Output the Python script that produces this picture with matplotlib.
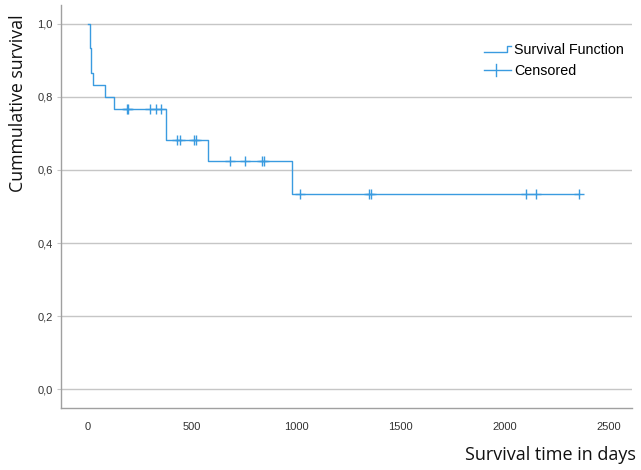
import numpy as np
import matplotlib
matplotlib.use("Agg")
import matplotlib.pyplot as plt
from matplotlib.lines import Line2D
from matplotlib.legend_handler import HandlerBase

# ---- data ----
death_times = [8, 8, 15, 15, 25, 82, 125, 375, 375, 577, 978]
censor_times = [185, 190, 298, 327, 351, 425, 442, 510, 518,
                683, 755, 835, 846, 1019, 1347, 1359, 2101, 2149, 2356]
yticks = [0.0, 0.2, 0.4, 0.6, 0.8, 1.0]
ytick_labels = ["0,0", "0,2", "0,4", "0,6", "0,8", "1,0"]
xticks = [0, 500, 1000, 1500, 2000, 2500]
xtick_labels = ["0", "500", "1000", "1500", "2000", "2500"]

# ---- Kaplan-Meier ----
times = np.array(death_times + censor_times, dtype=float)
events = np.array([1] * len(death_times) + [0] * len(censor_times))
ut = np.unique(times[events == 1])
step_x = [0.0]
step_y = [1.0]
s = 1.0
for t in ut:
    at_risk = np.sum(times >= t)
    d = np.sum((times == t) & (events == 1))
    s *= (1 - d / at_risk)
    step_x.append(t)
    step_y.append(s)
end_t = times.max()
step_x.append(end_t)
step_y.append(step_y[-1])

def surv_at(t):
    idx = np.searchsorted(np.array(step_x[:-1]), t, side="right") - 1
    return step_y[idx]

cens_y = [surv_at(t) for t in censor_times]

color = "#3A9BE0"
grid_c = "#c6c6c6"
spine_c = "#a0a0a0"

fig = plt.figure(figsize=(6.41, 4.70), dpi=100)
ax = fig.add_axes([61 / 641, 1 - 408 / 470, (632 - 61) / 641, (408 - 5) / 470])

ax.step(step_x, step_y, where="post", color=color, lw=1.0)
ax.plot(censor_times, cens_y, linestyle="none", marker="+", markersize=7,
        mew=1.0, color=color)

ax.set_xlim(-129.6, 2610)
ax.set_ylim(-0.052, 1.052)
ax.set_xticks(xticks)
ax.set_xticklabels(xtick_labels, family="Liberation Sans", fontsize=8, color="#333333")
ax.set_yticks(yticks)
ax.set_yticklabels(ytick_labels, family="Liberation Sans", fontsize=8, color="#333333")
ax.tick_params(axis="x", length=0, pad=10)
ax.tick_params(axis="y", length=3, color=grid_c, pad=3)
ax.grid(axis="y", color=grid_c, lw=1.0)
ax.set_axisbelow(True)
for sp in ["top", "right"]:
    ax.spines[sp].set_visible(False)
for sp in ["left", "bottom"]:
    ax.spines[sp].set_color(spine_c)
    ax.spines[sp].set_linewidth(1.0)

fig.text(18 / 641, 1 - 14 / 470, "Cummulative survival", rotation=90,
         ha="center", va="top", family="Open Sans", fontsize=12.8, color="#111111")
fig.text(636 / 641, 1 - 455 / 470, "Survival time in days", ha="right",
         va="center", family="Open Sans", fontsize=13, color="#111111")


class StepHandler(HandlerBase):
    def create_artists(self, legend, orig_handle, xdescent, ydescent,
                       width, height, fontsize, trans):
        x0 = -xdescent
        y0 = -ydescent + height * 0.15
        y1 = -ydescent + height * 0.8
        xs = [x0, x0 + width * 0.85, x0 + width * 0.85, x0 + width]
        ys = [y0, y0, y1, y1]
        ln = Line2D(xs, ys, color=color, lw=1.0, transform=trans)
        return [ln]


class PlusHandler(HandlerBase):
    def create_artists(self, legend, orig_handle, xdescent, ydescent,
                       width, height, fontsize, trans):
        x0 = -xdescent
        yc = -ydescent + height / 2
        h = Line2D([x0, x0 + width], [yc, yc], color=color, lw=1.0, transform=trans)
        v = Line2D([x0 + width * 0.45, x0 + width * 0.45],
                   [yc - height * 0.6, yc + height * 0.6], color=color, lw=1.0,
                   transform=trans)
        return [h, v]


h1 = Line2D([], [], color=color)
h2 = Line2D([], [], color=color, marker="+")
leg = ax.legend([h1, h2], ["Survival Function", "Censored"],
                handler_map={h1: StepHandler(), h2: PlusHandler()},
                loc="upper left", bbox_to_anchor=((484 - 61) / 571, 1 - (43 - 5) / 403),
                frameon=False, prop={"family": "Liberation Sans", "size": 10.3},
                handlelength=1.9, handletextpad=0.2, labelspacing=0.5,
                borderpad=0, borderaxespad=0)

fig.savefig("out.png", dpi=100)
